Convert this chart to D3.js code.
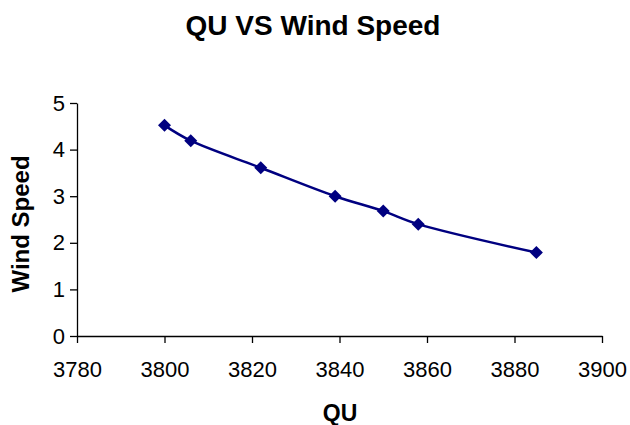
<!DOCTYPE html>
<html>
<head>
<meta charset="utf-8">
<script src="https://cdn.jsdelivr.net/npm/d3@7"></script>
<style>
  body { margin: 0; background: #fff; }
  svg { display: block; font-family: Arial, "Liberation Sans", sans-serif; }
</style>
</head>
<body>
<div id="chart"></div>
<script>
const WIDTH = 630;
const HEIGHT = 425;

// data
const qu = [3800, 3806, 3822, 3839, 3850, 3858, 3885];
const windSpeed = [4.52, 4.19, 3.61, 3.0, 2.68, 2.40, 1.79];
const xTicks = [3780, 3800, 3820, 3840, 3860, 3880, 3900];
const yTicks = [0, 1, 2, 3, 4, 5];

const margin = { left: 77, right: 28, top: 103, bottom: 89 };

var svg = d3.select("#chart").append("svg")
    .attr("width", WIDTH)
    .attr("height", HEIGHT);

var xScale = d3.scaleLinear()
    .domain([3780, 3900])
    .range([margin.left, WIDTH - margin.right]);

var yScale = d3.scaleLinear()
    .domain([0, 5])
    .range([HEIGHT - margin.bottom, margin.top]);

// axes
var xAxis = svg.append("g")
    .attr("transform", `translate(0,${yScale(0)})`)
    .call(d3.axisBottom(xScale).tickValues(xTicks).tickFormat(d3.format("d"))
        .tickSize(7).tickPadding(18).tickSizeOuter(0));

var yAxis = svg.append("g")
    .attr("transform", `translate(${xScale(3780)},0)`)
    .call(d3.axisLeft(yScale).tickValues(yTicks).tickFormat(d3.format("d"))
        .tickSize(7).tickPadding(5).tickSizeOuter(0));

[xAxis, yAxis].forEach(a => {
    a.selectAll("path, line").attr("stroke", "#000").attr("stroke-width", 1.3);
    a.selectAll("text").attr("fill", "#000").attr("font-size", "22px");
});

// line
var line = d3.line()
    .x((d, i) => xScale(qu[i]))
    .y(d => yScale(d))
    .curve(d3.curveCatmullRom.alpha(0.5));

svg.append("path")
    .datum(windSpeed)
    .attr("fill", "none")
    .attr("stroke", "#000080")
    .attr("stroke-width", 2.5)
    .attr("d", line);

// diamond markers
svg.selectAll(".marker")
    .data(windSpeed)
    .enter()
    .append("path")
    .attr("class", "marker")
    .attr("transform", (d, i) => `translate(${xScale(qu[i])},${yScale(d)})`)
    .attr("d", "M0,-6.5L6.5,0L0,6.5L-6.5,0Z")
    .attr("fill", "#000080");

// titles
svg.append("text")
    .attr("x", 313)
    .attr("y", 35)
    .attr("text-anchor", "middle")
    .attr("font-size", "28px")
    .attr("font-weight", "bold")
    .text("QU VS Wind Speed");

svg.append("text")
    .attr("x", 340)
    .attr("y", 421)
    .attr("text-anchor", "middle")
    .attr("font-size", "23px")
    .attr("font-weight", "bold")
    .text("QU");

svg.append("text")
    .attr("transform", "translate(29,224) rotate(-90)")
    .attr("text-anchor", "middle")
    .attr("font-size", "24px")
    .attr("font-weight", "bold")
    .text("Wind Speed");
</script>
</body>
</html>
